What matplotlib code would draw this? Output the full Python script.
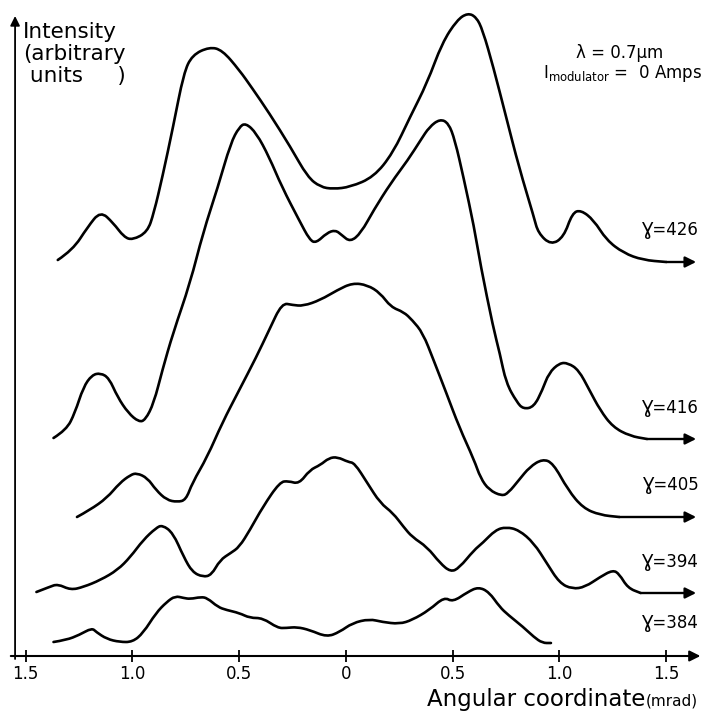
"""Angular intensity profiles for several beam energies (gamma), stacked as in the original figure."""

import matplotlib.pyplot as plt
from matplotlib.path import Path
from matplotlib.patches import PathPatch

# Angular coordinate (mrad, left side drawn as negative) and intensity (arbitrary units)
theta_426 = [-1.35, -1.28, -1.21, -1.15, -1.09, -1.04, -1.00, -0.93, -0.90, -0.86,
             -0.81, -0.76, -0.72, -0.64, -0.58, -0.50, -0.44, -0.36, -0.26, -0.18,
             -0.12, -0.06, 0.02, 0.13, 0.22, 0.30, 0.38, 0.45, 0.52, 0.57,
             0.61, 0.64, 0.69, 0.75, 0.81, 0.88, 0.90, 0.96, 1.02, 1.06,
             1.10, 1.16, 1.22, 1.30, 1.39, 1.50]
int_426 = [3.96, 4.06, 4.29, 4.45, 4.33, 4.19, 4.16, 4.24, 4.43, 4.79,
           5.29, 5.83, 6.01, 6.09, 6.06, 5.86, 5.68, 5.43, 5.09, 4.79,
           4.69, 4.67, 4.69, 4.79, 5.03, 5.39, 5.73, 6.13, 6.36, 6.43,
           6.39, 6.26, 5.89, 5.39, 4.89, 4.39, 4.23, 4.11, 4.19, 4.43,
           4.46, 4.36, 4.16, 4.03, 3.96, 3.94]

theta_416 = [-1.37, -1.31, -1.27, -1.23, -1.19, -1.15, -1.11, -1.07, -1.02, -0.97,
             -0.94, -0.90, -0.86, -0.81, -0.73, -0.67, -0.60, -0.54, -0.50, -0.47,
             -0.42, -0.36, -0.30, -0.22, -0.17, -0.14, -0.09, -0.05, -0.02, 0.02,
             0.07, 0.13, 0.21, 0.29, 0.35, 0.39, 0.44, 0.48, 0.51, 0.55,
             0.60, 0.63, 0.69, 0.72, 0.75, 0.80, 0.83, 0.88, 0.92, 0.95,
             1.00, 1.04, 1.09, 1.14, 1.19, 1.25, 1.33, 1.41]
int_416 = [2.18, 2.26, 2.43, 2.69, 2.81, 2.83, 2.78, 2.59, 2.43, 2.34,
           2.36, 2.53, 2.86, 3.23, 3.73, 4.23, 4.69, 5.13, 5.29, 5.33,
           5.23, 4.99, 4.69, 4.36, 4.16, 4.13, 4.23, 4.26, 4.21, 4.14,
           4.23, 4.46, 4.73, 4.96, 5.16, 5.29, 5.37, 5.33, 5.16, 4.79,
           4.29, 3.91, 3.28, 3.03, 2.73, 2.54, 2.47, 2.49, 2.66, 2.83,
           2.93, 2.93, 2.86, 2.66, 2.46, 2.29, 2.20, 2.17]

theta_405 = [-1.26, -1.20, -1.12, -1.06, -1.01, -0.98, -0.93, -0.89, -0.84, -0.79,
             -0.75, -0.72, -0.65, -0.58, -0.50, -0.42, -0.36, -0.30, -0.25, -0.20,
             -0.12, -0.04, 0.03, 0.10, 0.16, 0.21, 0.27, 0.31, 0.36, 0.41,
             0.47, 0.53, 0.60, 0.63, 0.67, 0.73, 0.76, 0.81, 0.86, 0.92,
             0.97, 1.04, 1.11, 1.19, 1.28]
int_405 = [1.39, 1.46, 1.58, 1.73, 1.81, 1.83, 1.78, 1.66, 1.56, 1.54,
           1.56, 1.73, 1.99, 2.33, 2.66, 2.99, 3.26, 3.53, 3.51, 3.50,
           3.56, 3.66, 3.73, 3.71, 3.63, 3.49, 3.44, 3.36, 3.23, 2.96,
           2.63, 2.29, 1.96, 1.78, 1.66, 1.60, 1.63, 1.76, 1.89, 1.97,
           1.93, 1.66, 1.48, 1.41, 1.39]

theta_394 = [-1.45, -1.39, -1.35, -1.29, -1.23, -1.15, -1.07, -1.01, -0.95, -0.89,
             -0.86, -0.81, -0.76, -0.72, -0.67, -0.63, -0.59, -0.54, -0.50, -0.45,
             -0.39, -0.31, -0.27, -0.22, -0.17, -0.12, -0.08, -0.04, 0.01, 0.04,
             0.10, 0.16, 0.22, 0.27, 0.31, 0.38, 0.44, 0.49, 0.53, 0.60,
             0.64, 0.70, 0.75, 0.81, 0.88, 0.94, 1.00, 1.06, 1.12, 1.19,
             1.25, 1.28, 1.32, 1.38]
int_394 = [0.64, 0.69, 0.72, 0.66, 0.69, 0.76, 0.86, 0.99, 1.16, 1.28,
           1.31, 1.23, 0.99, 0.84, 0.79, 0.81, 0.96, 1.03, 1.09, 1.26,
           1.49, 1.74, 1.75, 1.72, 1.86, 1.91, 1.98, 1.99, 1.94, 1.93,
           1.73, 1.53, 1.43, 1.29, 1.19, 1.09, 0.93, 0.84, 0.88, 1.06,
           1.13, 1.26, 1.29, 1.26, 1.13, 0.93, 0.73, 0.67, 0.69, 0.79,
           0.86, 0.82, 0.68, 0.63]

theta_384 = [-1.37, -1.31, -1.25, -1.19, -1.17, -1.12, -1.06, -1.00, -0.95, -0.89,
             -0.84, -0.80, -0.76, -0.73, -0.68, -0.65, -0.60, -0.56, -0.50, -0.45,
             -0.39, -0.32, -0.28, -0.23, -0.17, -0.09, -0.03, 0.03, 0.11, 0.17,
             0.25, 0.31, 0.39, 0.46, 0.50, 0.57, 0.62, 0.67, 0.72, 0.76,
             0.83, 0.88, 0.92, 0.96]
int_384 = [0.14, 0.16, 0.21, 0.28, 0.24, 0.17, 0.14, 0.14, 0.23, 0.43,
           0.54, 0.60, 0.58, 0.57, 0.59, 0.58, 0.49, 0.46, 0.43, 0.38,
           0.38, 0.28, 0.28, 0.29, 0.26, 0.19, 0.24, 0.33, 0.37, 0.34,
           0.32, 0.36, 0.46, 0.59, 0.54, 0.64, 0.69, 0.64, 0.49, 0.41,
           0.29, 0.19, 0.13, 0.13]

gamma_labels = ["Ɣ=426", "Ɣ=416", "Ɣ=405", "Ɣ=394", "Ɣ=384"]
tick_values = [-1.5, -1.0, -0.5, 0.0, 0.5, 1.0, 1.5]
tick_labels = ["1.5", "1.0", "0.5", "0", "0.5", "1.0", "1.5"]

plt.rcParams["font.family"] = ["DejaVu Sans"]


def smooth_trace(ax, xs, ys, lw):
    """Draw the trace as a chain of quadratic Beziers so it looks hand drawn rather than jagged."""
    pts = list(zip(xs, ys))
    verts = [pts[0]]
    codes = [Path.MOVETO]
    for i in range(1, len(pts) - 1):
        mid = ((pts[i][0] + pts[i + 1][0]) / 2, (pts[i][1] + pts[i + 1][1]) / 2)
        verts += [pts[i], mid]
        codes += [Path.CURVE3, Path.CURVE3]
    verts.append(pts[-1])
    codes.append(Path.LINETO)
    ax.add_patch(PathPatch(Path(verts, codes), fill=False, edgecolor="black", lw=lw,
                           joinstyle="round", capstyle="round"))


fig = plt.figure(figsize=(7.06, 7.15), dpi=100)
ax = fig.add_axes([0, 59 / 715, 1, 656 / 715])
ax.set_xlim(-1.6206, 1.6862)
ax.set_ylim(0, 6.56)
for side in ax.spines.values():
    side.set_visible(False)

curves = [
    (theta_426, int_426, True),
    (theta_416, int_416, True),
    (theta_405, int_405, True),
    (theta_394, int_394, True),
    (theta_384, int_384, False),
]
arrow_tip = 1.64
for th, val, has_arrow in curves:
    smooth_trace(ax, th, val, 1.9)
    if has_arrow:
        # flat tail running out to the right with a filled arrow head
        ax.annotate("", xy=(arrow_tip, val[-1]), xytext=(th[-1], val[-1]),
                    arrowprops=dict(arrowstyle="-|>", color="black", lw=1.7,
                                    mutation_scale=16, shrinkA=0, shrinkB=0))

# gamma labels sit just above the tails
label_y = [4.26, 2.48, 1.71, 0.94, 0.33]
for label, y in zip(gamma_labels, label_y):
    ax.text(1.655, y, label, ha="right", va="center", fontsize=12)

# axes drawn as arrows
ax.annotate("", xy=(1.66, 0), xytext=(-1.57, 0),
            arrowprops=dict(arrowstyle="-|>", color="black", lw=1.5,
                            mutation_scale=16, shrinkA=0, shrinkB=0))
ax.annotate("", xy=(-1.55, 6.40), xytext=(-1.55, -0.03),
            arrowprops=dict(arrowstyle="-|>", color="black", lw=1.3,
                            mutation_scale=14, shrinkA=0, shrinkB=0))

ax.set_xticks(tick_values)
ax.set_xticklabels(tick_labels)
ax.tick_params(axis="x", direction="inout", length=9, width=1.3, labelsize=12, pad=2)
ax.set_yticks([])

ax.text(-1.513, 6.02, "Intensity\n(arbitrary\n units     )", ha="left", va="center",
        fontsize=15.5, linespacing=1.15)
ax.text(1.283, 6.03, "λ = 0.7μm", ha="center", va="center", fontsize=12)
ax.text(1.67, 5.83, r"I$_{\rm modulator}$ =  0 Amps", ha="right", va="center", fontsize=12)

ax.text(1.40, -0.50, "Angular coordinate", ha="right", va="baseline", fontsize=16.5)
ax.text(1.405, -0.50, "(mrad)", ha="left", va="baseline", fontsize=11)

fig.savefig("out.png", dpi=100)
